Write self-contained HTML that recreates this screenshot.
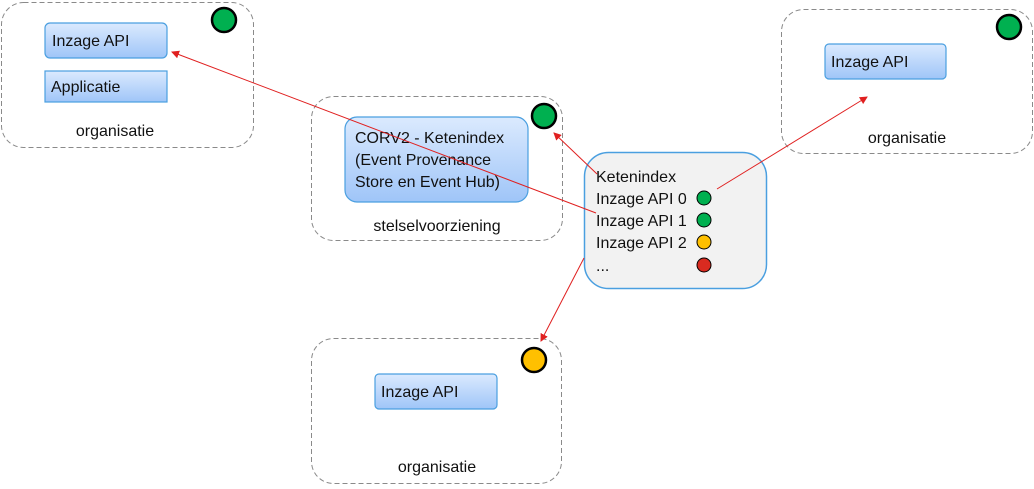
<!DOCTYPE html>
<html><head><style>body{margin:0;background:#fff}svg{display:block}text{font-family:"Liberation Sans",Calibri,sans-serif;font-size:16px;fill:#111}</style></head><body>
<svg width="1034" height="489" viewBox="0 0 1034 489" xmlns="http://www.w3.org/2000/svg">
<defs>
<linearGradient id="g" x1="0" y1="0" x2="0" y2="1"><stop offset="0" stop-color="#dbeafe"/><stop offset="1" stop-color="#9fc5f8"/></linearGradient>
<marker id="a" markerWidth="8" markerHeight="8" refX="7" refY="4" orient="auto" markerUnits="userSpaceOnUse"><path d="M0,0 L8,4 L0,8 z" fill="#e02020"/></marker>
</defs>
<g fill="none" stroke="#8a8a8a" stroke-dasharray="5,3" stroke-width="1">
<rect x="1.5" y="2.5" width="252" height="145" rx="22"/>
<rect x="311.5" y="96.5" width="251" height="144" rx="22"/>
<rect x="781.5" y="9.5" width="251" height="144" rx="22"/>
<rect x="311.5" y="338.5" width="250" height="145" rx="22"/>
</g>
<g stroke="#000" stroke-width="2.5">
<circle cx="224" cy="20" r="12" fill="#00b050"/>
<circle cx="544" cy="116" r="12" fill="#00b050"/>
<circle cx="1009" cy="27" r="12" fill="#00b050"/>
<circle cx="534" cy="360" r="12" fill="#ffc000"/>
</g>
<g stroke="#4a9fe0" stroke-width="1.2" fill="url(#g)">
<rect x="45" y="23" width="122" height="35" rx="5"/>
<rect x="45" y="71" width="122" height="31"/>
<rect x="345" y="117" width="183" height="85" rx="12"/>
<rect x="825" y="44" width="121" height="35" rx="4"/>
<rect x="375" y="374" width="122" height="35" rx="4"/>
</g>
<rect x="584.5" y="152.5" width="182" height="136" rx="24" fill="#f2f2f2" stroke="#4a9fe0" stroke-width="1.5"/>
<text x="52" y="46">Inzage API</text>
<text x="51" y="92">Applicatie</text>
<text x="115" y="136" text-anchor="middle">organisatie</text>
<text x="355" y="143">CORV2 - Ketenindex</text>
<text x="355" y="165">(Event Provenance</text>
<text x="355" y="187">Store en Event Hub)</text>
<text x="437" y="231" text-anchor="middle">stelselvoorziening</text>
<text x="831" y="67">Inzage API</text>
<text x="907" y="143" text-anchor="middle">organisatie</text>
<text x="381" y="397">Inzage API</text>
<text x="437" y="472" text-anchor="middle">organisatie</text>
<text x="596" y="182">Ketenindex</text>
<text x="596" y="204">Inzage API 0</text>
<text x="596" y="226">Inzage API 1</text>
<text x="596" y="248">Inzage API 2</text>
<text x="596" y="271">...</text>
<g stroke="#000" stroke-width="1">
<circle cx="704" cy="198" r="7" fill="#00b050"/>
<circle cx="704" cy="220" r="7" fill="#00b050"/>
<circle cx="704" cy="242" r="7" fill="#ffc000"/>
<circle cx="704" cy="265" r="7" fill="#d92b20"/>
</g>
<g stroke="#e02020" stroke-width="1" fill="none">
<line x1="596" y1="213" x2="172" y2="52" marker-end="url(#a)"/>
<line x1="597" y1="174" x2="554" y2="133" marker-end="url(#a)"/>
<line x1="717" y1="189" x2="867" y2="97" marker-end="url(#a)"/>
<line x1="584" y1="258" x2="541" y2="341" marker-end="url(#a)"/>
</g>
</svg>
</body></html>
